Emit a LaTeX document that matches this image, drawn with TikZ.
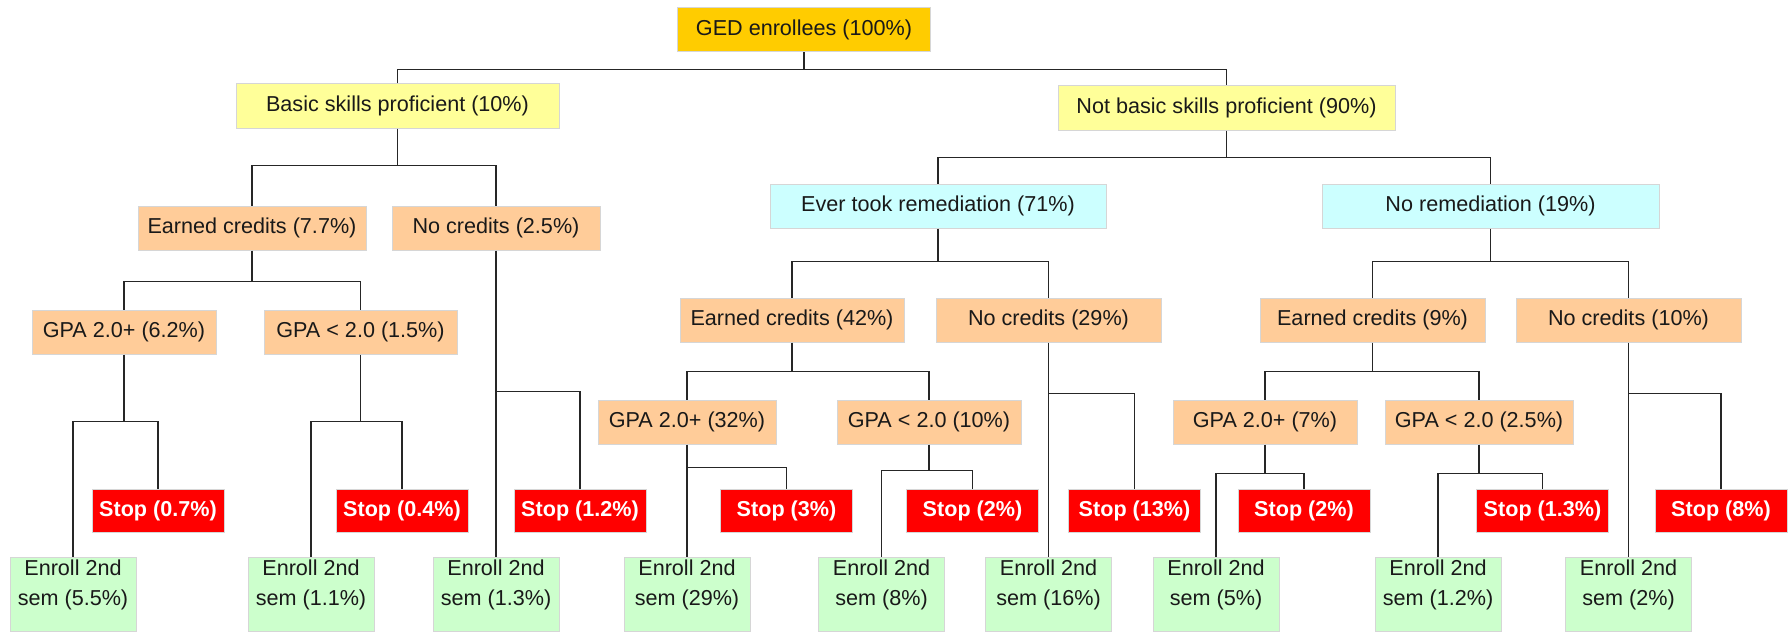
\documentclass[tikz,border=0pt]{standalone}
\usepackage{fontspec}
\setmainfont{Liberation Sans}
\usepackage{tikz}

\definecolor{gedgold}{HTML}{FFCC00}
\definecolor{skillyellow}{HTML}{FFFF99}
\definecolor{remcyan}{HTML}{CCFFFF}
\definecolor{credorange}{HTML}{FFCC99}
\definecolor{stopred}{HTML}{FF0000}
\definecolor{enrgreen}{HTML}{CCFFCC}
\definecolor{edgegray}{HTML}{D6D6D6}

\tikzset{
  box/.style={draw=edgegray, line width=0.5pt, inner sep=0pt, minimum height=22pt,
    font=\fontsize{10.8}{15}\selectfont, text=black!90},
  gedbox/.style={box, fill=gedgold},
  skillbox/.style={box, fill=skillyellow},
  rembox/.style={box, fill=remcyan},
  credbox/.style={box, fill=credorange},
  stopbox/.style={box, fill=stopred, minimum width=66pt, minimum height=21.5pt,
    text=white, font=\fontsize{10.8}{15}\selectfont\bfseries},
  enrbox/.style={box, fill=enrgreen, minimum width=63pt, minimum height=37pt, align=center},
  link/.style={line width=0.75pt, black!85}
}

\begin{document}
\begin{tikzpicture}[x=0.5pt, y=-0.5pt]
      \useasboundingbox (0,0) rectangle (1791,631);
      % top levels
      \node[gedbox, minimum width=126.5pt] (ged) at (804,30) {GED enrollees (100\%)};
      \node[skillbox, minimum width=161.5pt] (basic) at (397.5,106) {Basic skills proficient (10\%)};
      \node[skillbox, minimum width=168.5pt] (notbasic) at (1226.5,108) {Not basic skills proficient (90\%)};
      \node[rembox, minimum width=168pt] (ever) at (938,206) {Ever took remediation (71\%)};
      \node[rembox, minimum width=168.5pt] (norem) at (1490.5,206) {No remediation (19\%)};
      % credits
      \node[credbox, minimum width=114pt] (earnA) at (252,228) {Earned credits (7.7\%)};
      \node[credbox, minimum width=104pt] (nocredA) at (496,228) {No credits (2.5\%)};
      \node[credbox, minimum width=112pt] (earnB) at (792,320) {Earned credits (42\%)};
      \node[credbox, minimum width=112.5pt] (nocredB) at (1048.5,320) {No credits (29\%)};
      \node[credbox, minimum width=112.5pt] (earnC) at (1372.5,320) {Earned credits (9\%)};
      \node[credbox, minimum width=112.5pt] (nocredC) at (1628.5,320) {No credits (10\%)};
      % gpa
      \node[credbox, minimum width=92pt] (gpaA1) at (124,332) {GPA 2.0+ (6.2\%)};
      \node[credbox, minimum width=96.5pt] (gpaA2) at (360.5,332) {GPA < 2.0 (1.5\%)};
      \node[credbox, minimum width=89pt] (gpaB1) at (687,422) {GPA 2.0+ (32\%)};
      \node[credbox, minimum width=92pt] (gpaB2) at (929,422) {GPA < 2.0 (10\%)};
      \node[credbox, minimum width=92pt] (gpaC1) at (1265,422) {GPA 2.0+ (7\%)};
      \node[credbox, minimum width=94pt] (gpaC2) at (1479,422) {GPA < 2.0 (2.5\%)};
      % outcomes
      \foreach \n/\x/\v in {A1/158/0.7, A2/402/0.4, A3/580/1.2, B1/786.5/3, B2/972.5/2,
                            B3/1134.5/13, C1/1304/2, C2/1542.5/1.3, C3/1721/8}
        \node[stopbox] (stop\n) at (\x,510.5) {Stop (\v\%)};
      \foreach \n/\x/\v in {A1/73/5.5, A2/311/1.1, A3/496/1.3, B1/687/29, B2/881.5/8,
                            B3/1048.5/16, C1/1216/5, C2/1438/1.2, C3/1628.5/2}
        \node[enrbox] (enr\n) at (\x,594) {Enroll 2nd\\sem (\v\%)\\[-4pt]};
      % connectors
      \foreach \p/\d/\a/\b in {ged/17/basic/notbasic, basic/37/earnA/nocredA,
          notbasic/27/ever/norem, earnA/31/gpaA1/gpaA2, ever/33/earnB/nocredB,
          norem/33/earnC/nocredC, earnB/29/gpaB1/gpaB2, earnC/29/gpaC1/gpaC2,
          gpaA1/67/enrA1/stopA1, gpaA2/67/enrA2/stopA2, nocredA/141/enrA3/stopA3,
          gpaB1/23/enrB1/stopB1, gpaB2/26/enrB2/stopB2, nocredB/51/enrB3/stopB3,
          gpaC1/29/enrC1/stopC1, gpaC2/29/enrC2/stopC2, nocredC/51/enrC3/stopC3}
      {
        \draw[link] (\p.south) -- ++(0,\d) coordinate (m);
        \draw[link] (\a.north) |- (m) -| (\b.north);
      }
  \end{tikzpicture}
\end{document}
